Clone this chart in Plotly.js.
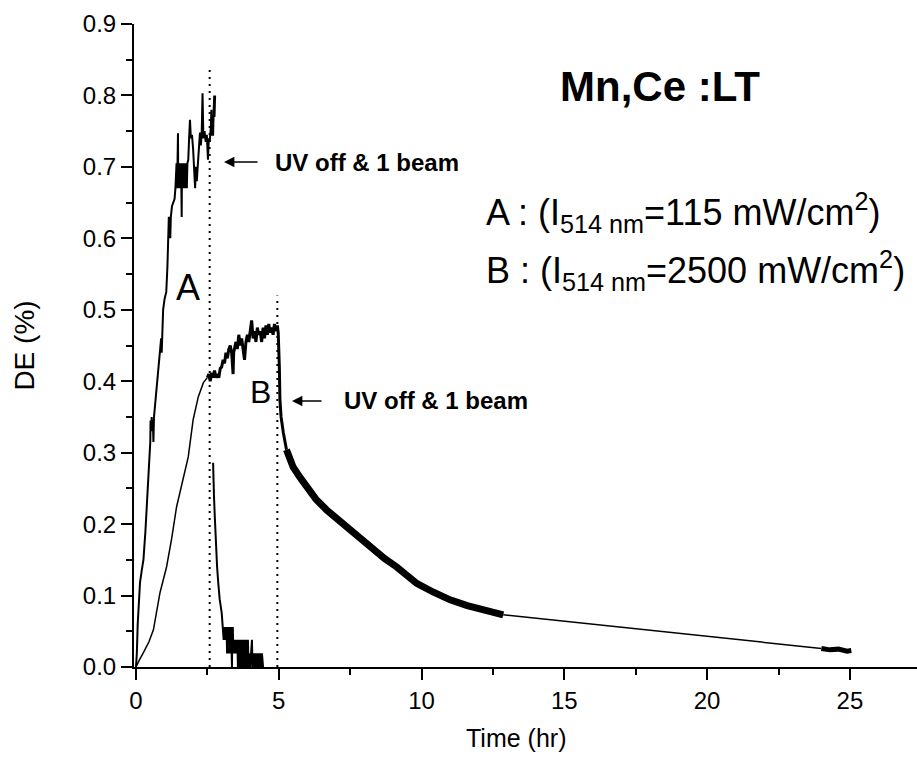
<!DOCTYPE html>
<html>
<head>
<meta charset="utf-8">
<script src="https://cdn.plot.ly/plotly-3.0.1.min.js"></script>
<style>html,body{margin:0;padding:0;background:#fff;}#chart{width:917px;height:767px;}</style>
</head>
<body>
<div id="chart"></div>
<script>
// ---- Curve A (I514nm = 115 mW/cm2): writing phase ----
const aRiseT = [0,0.03,0.06,0.1,0.14,0.2,0.26,0.33,0.4,0.46,0.5,0.51,0.53,0.55,0.57,0.59,0.61,0.63,0.7,0.78,0.85,0.88,0.9,0.92,0.95,1.0,1.06,1.1,1.13,1.15,1.16,1.17,1.18,1.19,1.2,1.22,1.26,1.3,1.35,1.38,1.42,1.44,1.46,1.47,1.48,1.5,1.52,1.54,1.56,1.58,1.6,1.61,1.62,1.64,1.66,1.68,1.7,1.72,1.74,1.76,1.78,1.8,1.83,1.86,1.89,1.92,1.96,2.0,2.04,2.07,2.1,2.13,2.16,2.2,2.24,2.27,2.3,2.33,2.36,2.4,2.44,2.48,2.52,2.55,2.58,2.62,2.64,2.66,2.7,2.72,2.74,2.75,2.77];
const aRiseDE = [0,0.02,0.06,0.1,0.118,0.135,0.15,0.19,0.24,0.29,0.315,0.345,0.33,0.35,0.33,0.345,0.315,0.35,0.38,0.41,0.44,0.46,0.44,0.47,0.5,0.515,0.525,0.56,0.6,0.63,0.6,0.63,0.6,0.63,0.6,0.63,0.645,0.65,0.655,0.67,0.705,0.67,0.705,0.747,0.67,0.705,0.67,0.705,0.67,0.705,0.63,0.705,0.67,0.705,0.67,0.705,0.67,0.705,0.67,0.705,0.67,0.705,0.71,0.74,0.766,0.74,0.745,0.725,0.7,0.67,0.7,0.68,0.7,0.72,0.748,0.73,0.745,0.803,0.74,0.75,0.735,0.745,0.71,0.74,0.735,0.755,0.78,0.745,0.745,0.78,0.80,0.77,0.80];

// ---- Curve A: erasure (UV off & 1 beam) ----
const aDecayT = [2.7,2.71,2.73,2.76,2.8,2.84,2.88,2.93,3.0,3.04,3.05,3.07,3.09,3.11,3.13,3.15,3.17,3.19,3.21,3.23,3.25,3.27,3.29,3.31,3.33,3.35,3.36,3.37,3.39,3.41,3.43,3.45,3.47,3.49,3.51,3.53,3.55,3.57,3.59,3.61,3.63,3.65,3.67,3.69,3.71,3.73,3.75,3.77,3.79,3.81,3.83,3.85,3.87,3.89,3.92,3.94,3.97,4.0,4.03,4.06,4.08,4.11,4.14,4.17,4.2,4.23,4.26,4.29,4.32,4.35,4.38,4.41,4.45];
const aDecayDE = [0.286,0.26,0.24,0.21,0.17,0.14,0.118,0.095,0.076,0.056,0.056,0.038,0.056,0.038,0.056,0.038,0.056,0.019,0.056,0.019,0.056,0.019,0.056,0.019,0.056,0.019,0,0.038,0.056,0.019,0.038,0.019,0.038,0.019,0.038,0.019,0.038,0,0.038,0,0.038,0,0.038,0,0.038,0,0.038,0,0.038,0,0.038,0,0.038,0,0.038,0,0.019,0,0.019,0.038,0,0.019,0,0.019,0,0.019,0,0.019,0,0.019,0,0.019,0];

// ---- Curve B (I514nm = 2500 mW/cm2) ----
const bRiseT = [0,0.06,0.12,0.26,0.45,0.61,0.84,1.07,1.25,1.42,1.66,1.83,2.0,2.18,2.36,2.5];
const bRiseDE = [0,0.004,0.01,0.02,0.035,0.052,0.104,0.14,0.18,0.224,0.266,0.294,0.346,0.378,0.398,0.405];
const bPlateauT = [2.5,2.55,2.6,2.65,2.7,2.75,2.8,2.85,2.9,2.95,3.0,3.05,3.1,3.15,3.2,3.25,3.3,3.35,3.4,3.42,3.5,3.55,3.6,3.65,3.7,3.75,3.8,3.85,3.9,3.95,4.0,4.05,4.1,4.15,4.2,4.25,4.3,4.35,4.4,4.45,4.5,4.55,4.6,4.65,4.7,4.75,4.8,4.85,4.9,4.95,4.98,5.0,5.02,5.04,5.08,5.16,5.27];
const bPlateauDE = [0.405,0.41,0.4,0.412,0.405,0.415,0.405,0.41,0.405,0.418,0.42,0.43,0.425,0.44,0.432,0.445,0.45,0.44,0.41,0.44,0.455,0.445,0.465,0.45,0.46,0.44,0.43,0.455,0.465,0.455,0.47,0.485,0.46,0.47,0.455,0.475,0.465,0.47,0.455,0.475,0.46,0.478,0.465,0.48,0.468,0.475,0.465,0.48,0.47,0.478,0.468,0.45,0.42,0.375,0.35,0.328,0.304];
const bDecayT = [5.27,5.5,5.75,5.97,6.3,6.67,7.1,7.49,7.9,8.3,8.7,9.13,9.5,9.83,10.4,11.0,11.6,12.16,12.86];
const bDecayDE = [0.304,0.28,0.265,0.252,0.235,0.22,0.205,0.192,0.178,0.164,0.152,0.14,0.128,0.117,0.105,0.094,0.086,0.08,0.073];
const bGapT = [12.86,24.0];
const bGapDE = [0.073,0.026];
const bEndT = [24.0,24.3,24.6,24.9,25.05];
const bEndDE = [0.026,0.024,0.025,0.022,0.023];

// ---- Switch-off markers (dotted lines) ----
const switchT = [2.58, 4.95];
const switchTopDE = [0.836, 0.52];

// ---- Axis ticks ----
const xTicks = [0,5,10,15,20,25];
const yTicks = [0,0.1,0.2,0.3,0.4,0.5,0.6,0.7,0.8,0.9];

const FONT = 'Liberation Sans, Arial, Helvetica, sans-serif';
const black = '#000';

const traces = [];
function line(x, y, w, dash) {
  traces.push({x: x, y: y, type: 'scatter', mode: 'lines',
    line: {color: black, width: w, dash: dash || 'solid'}, hoverinfo: 'skip'});
}
// dotted markers
switchT.forEach((t, i) => line([t, t], [0, switchTopDE[i]], 2, '2px,5px'));
line(aRiseT, aRiseDE, 2);
line(aDecayT, aDecayDE, 2);
line(bRiseT, bRiseDE, 1.5);
line(bPlateauT, bPlateauDE, 3);
line(bDecayT, bDecayDE, 7);
line(bGapT, bGapDE, 1.5);
line(bEndT, bEndDE, 5);

// pixel -> paper helpers for text placement
const L = 134, T = 24, W = 783, H = 643;
const px = p => (p - L) / W;
const py = p => (T + H - p) / H;

const annotations = [
  {text: '<b>Mn,Ce :LT</b>', x: px(660), y: py(86), font: {size: 42}},
  {text: '<b>UV off &amp; 1 beam</b>', x: px(273), y: py(162), xanchor: 'left', font: {size: 24}},
  {text: '<b>UV off &amp; 1 beam</b>', x: px(342), y: py(400), xanchor: 'left', font: {size: 24}},
  {text: 'A : (I<sub>514 nm</sub>=115 mW/cm<sup>2</sup>)', x: px(484), y: py(213), xanchor: 'left', font: {size: 36}},
  {text: 'B : (I<sub>514 nm</sub>=2500 mW/cm<sup>2</sup>)', x: px(484), y: py(270), xanchor: 'left', font: {size: 36}},
  {text: 'A', x: px(188), y: py(287), font: {size: 36}},
  {text: 'B', x: px(260), y: py(392), font: {size: 32}},
  {text: 'Time (hr)', x: px(516), y: py(738), font: {size: 25}},
].map(a => Object.assign({xref: 'paper', yref: 'paper', showarrow: false, yanchor: 'middle', xanchor: 'center'}, a, {font: Object.assign({family: FONT, color: black}, a.font)}));

annotations.push(
  {xref: 'paper', yref: 'paper', x: px(224), y: py(162), ax: 35, ay: 0, text: '', showarrow: true, arrowhead: 2, arrowsize: 1.3, arrowwidth: 1.6, arrowcolor: black},
  {xref: 'paper', yref: 'paper', x: px(292), y: py(401), ax: 31, ay: 0, text: '', showarrow: true, arrowhead: 2, arrowsize: 1.3, arrowwidth: 1.6, arrowcolor: black}
);

const axisCommon = {
  showline: true, linecolor: black, linewidth: 2, mirror: false,
  ticks: 'outside', ticklen: 11, tickwidth: 2, tickcolor: black,
  showgrid: false, zeroline: false, fixedrange: true,
  tickfont: {family: FONT, size: 24, color: black}
};

const layout = {
  width: 917, height: 767,
  margin: {l: L, r: 0, t: T, b: 100, pad: 0},
  paper_bgcolor: '#fff', plot_bgcolor: '#fff',
  showlegend: false, hovermode: false,
  font: {family: FONT, color: black},
  xaxis: Object.assign({}, axisCommon, {
    range: [-0.07, 27.35], tickmode: 'array', tickvals: xTicks, ticktext: xTicks.map(String),
    minor: {dtick: 2.5, tick0: 0, ticks: 'outside', ticklen: 6, tickwidth: 2, tickcolor: black, showgrid: false}
  }),
  yaxis: Object.assign({}, axisCommon, {
    range: [0, 0.9], tickmode: 'array', tickvals: yTicks, ticktext: yTicks.map(v => v.toFixed(1)),
    minor: {dtick: 0.05, tick0: 0, ticks: 'outside', ticklen: 6, tickwidth: 2, tickcolor: black, showgrid: false},
    title: {text: 'DE (%)', font: {family: FONT, size: 28, color: black}, standoff: 40}
  }),
  annotations: annotations
};

Plotly.newPlot('chart', traces, layout, {staticPlot: true, displayModeBar: false});
</script>
</body>
</html>
